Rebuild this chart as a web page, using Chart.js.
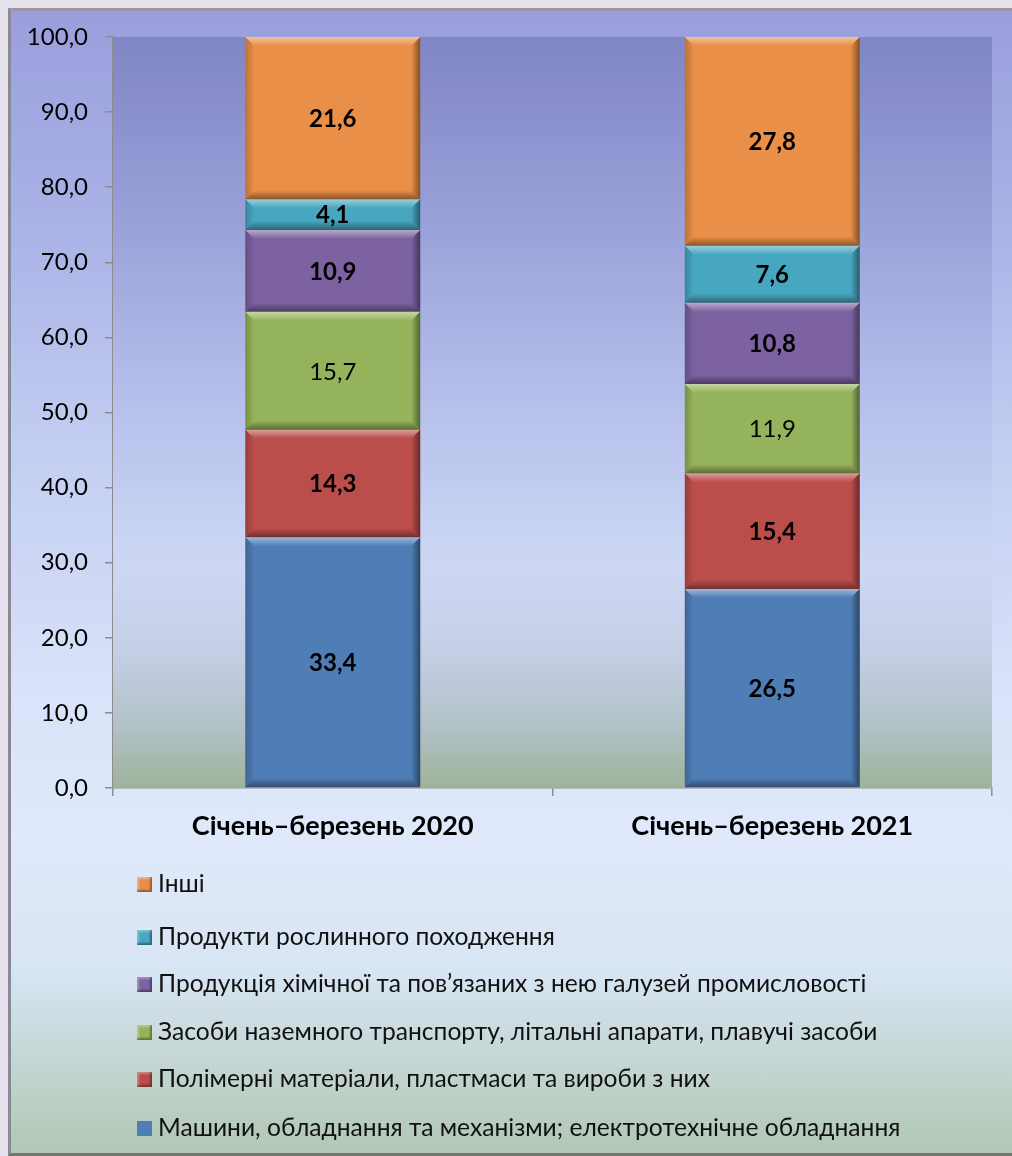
<!DOCTYPE html>
<html>
<head>
<meta charset="utf-8">
<script src="https://cdn.jsdelivr.net/npm/chart.js@4/dist/chart.umd.min.js"></script>
<style>
  html, body { margin: 0; padding: 0; background: #e5e0ec; }
  #wrap {
    position: absolute; left: 8px; top: 8px; width: 1001px; height: 1142px;
    border-left: 3px solid #8a8a96; border-top: 3px solid #9a98a8;
    border-bottom: 3px solid #6d7a6d; border-right: 0;
    background: linear-gradient(to bottom, #9a9fdc 0%, #a9b1e6 18%, #c3cdf1 38%, #d9e3f9 60%, #dfe9fb 72%, #d8e5f4 84%, #c2d4cf 93%, #b2c7b4 100%);
    overflow: hidden;
    font-family: Lato, "Open Sans", sans-serif;
  }
  #c { position: absolute; left: -11px; top: -11px; }
  #legend { position: absolute; left: 0; top: 0; }
  .li { position: absolute; left: 126px; height: 28px; line-height: 28px; font-size: 24.6px; color: #111; white-space: nowrap; }
  .mk { display: inline-block; width: 15px; height: 15px; margin-right: 6px; vertical-align: 0px; box-shadow: inset -2px -2px 2px rgba(0,0,0,0.35), inset 2px 2px 2px rgba(255,255,255,0.3); }
</style>
</head>
<body>
<div id="wrap">
  <canvas id="c" width="1012" height="1156"></canvas>
  <div id="legend"></div>
</div>
<script>
const categories = ['Січень–березень 2020', 'Січень–березень 2021'];
const seriesNames = [
  'Машини, обладнання та механізми; електротехнічне обладнання',
  'Полімерні матеріали, пластмаси та вироби з них',
  'Засоби наземного транспорту, літальні апарати, плавучі засоби',
  'Продукція хімічної та пов’язаних з нею галузей промисловості',
  'Продукти рослинного походження',
  'Інші'
];
const machines  = [33.4, 26.5];
const polymers  = [14.3, 15.4];
const transport = [15.7, 11.9];
const chemicals = [10.9, 10.8];
const plants    = [4.1, 7.6];
const others    = [21.6, 27.8];
const yMin = 0, yMax = 100, yStep = 10;

const seriesValues = [machines, polymers, transport, chemicals, plants, others];
const seriesColors = ['#4f7db6', '#bb4d4a', '#95b35a', '#7c62a0', '#47a6c0', '#e98f47'];
const boldLabels = [true, true, false, true, true, true];

const fmt = v => v.toFixed(1).replace('.', ',');

const plotBg = {
  id: 'plotBg',
  beforeDatasetsDraw(chart) {
    const {ctx, chartArea: a} = chart;
    const g = ctx.createLinearGradient(0, a.top, 0, a.bottom);
    g.addColorStop(0, '#8085c4');
    g.addColorStop(0.25, '#9aa1d9');
    g.addColorStop(0.5, '#b7c1ec');
    g.addColorStop(0.7, '#cdd7f4');
    g.addColorStop(0.82, '#c4cfe6');
    g.addColorStop(0.92, '#b2c1c6');
    g.addColorStop(1, '#9db399');
    ctx.save();
    ctx.fillStyle = g;
    ctx.fillRect(a.left, a.top, a.right - a.left, a.bottom - a.top);
    ctx.restore();
  }
};

const bevel = {
  id: 'bevel',
  afterDatasetsDraw(chart) {
    const ctx = chart.ctx;
    chart.data.datasets.forEach((ds, di) => {
      const meta = chart.getDatasetMeta(di);
      meta.data.forEach((el, i) => {
        const p = el.getProps(['x', 'y', 'base', 'width'], true);
        const l = p.x - p.width / 2, r = p.x + p.width / 2;
        const t = Math.min(p.y, p.base), b = Math.max(p.y, p.base);
        const h = b - t, e = Math.min(9, h / 3);
        ctx.save();
        let g = ctx.createLinearGradient(0, t, 0, t + e);
        g.addColorStop(0, 'rgba(255,255,255,0.45)');
        g.addColorStop(1, 'rgba(255,255,255,0)');
        ctx.fillStyle = g;
        ctx.beginPath(); ctx.moveTo(l, t); ctx.lineTo(r, t); ctx.lineTo(r - e, t + e); ctx.lineTo(l + e, t + e); ctx.closePath(); ctx.fill();
        g = ctx.createLinearGradient(0, b - e, 0, b);
        g.addColorStop(0, 'rgba(0,0,0,0)');
        g.addColorStop(1, 'rgba(0,0,0,0.4)');
        ctx.fillStyle = g;
        ctx.beginPath(); ctx.moveTo(l, b); ctx.lineTo(r, b); ctx.lineTo(r - e, b - e); ctx.lineTo(l + e, b - e); ctx.closePath(); ctx.fill();
        g = ctx.createLinearGradient(r - e, 0, r, 0);
        g.addColorStop(0, 'rgba(0,0,0,0)');
        g.addColorStop(1, 'rgba(0,0,0,0.45)');
        ctx.fillStyle = g;
        ctx.beginPath(); ctx.moveTo(r, t); ctx.lineTo(r, b); ctx.lineTo(r - e, b - e); ctx.lineTo(r - e, t + e); ctx.closePath(); ctx.fill();
        g = ctx.createLinearGradient(l, 0, l + e, 0);
        g.addColorStop(0, 'rgba(0,0,0,0.2)');
        g.addColorStop(1, 'rgba(0,0,0,0)');
        ctx.fillStyle = g;
        ctx.beginPath(); ctx.moveTo(l, t); ctx.lineTo(l, b); ctx.lineTo(l + e, b - e); ctx.lineTo(l + e, t + e); ctx.closePath(); ctx.fill();
        ctx.restore();
      });
    });
  }
};

const labelsPlugin = {
  id: 'vals',
  afterDatasetsDraw(chart) {
    const ctx = chart.ctx;
    chart.data.datasets.forEach((ds, di) => {
      const meta = chart.getDatasetMeta(di);
      meta.data.forEach((el, i) => {
        const p = el.getProps(['x', 'y', 'base'], true);
        ctx.save();
        ctx.font = (boldLabels[di] ? 'bold ' : '') + '24px Lato, "Open Sans", sans-serif';
        ctx.fillStyle = '#000';
        ctx.textAlign = 'center';
        ctx.textBaseline = 'middle';
        ctx.fillText(fmt(ds.data[i]), p.x, (p.y + p.base) / 2 + 1);
        ctx.restore();
      });
    });
  }
};

const datasets = seriesNames.map((n, k) => ({
  label: n,
  data: seriesValues[k],
  backgroundColor: seriesColors[k],
  borderWidth: 0,
  barPercentage: 0.398,
  categoryPercentage: 1.0
}));

new Chart(document.getElementById('c'), {
  type: 'bar',
  data: { labels: categories, datasets },
  options: {
    responsive: false,
    animation: false,
    events: [],
    layout: { padding: { left: 20, right: 20, top: 37, bottom: 308 } },
    plugins: { legend: { display: false }, tooltip: { enabled: false } },
    scales: {
      x: {
        stacked: true,
        offset: true,
        grid: { display: true, drawOnChartArea: false, offset: true, tickLength: 8, color: '#8c8c8c', lineWidth: 1.5 },
        border: { display: true, color: '#8c8c8c', width: 1.5 },
        ticks: { color: '#000', padding: 14, font: { family: 'Lato, "Open Sans", sans-serif', size: 27, weight: 'bold' } },
        afterFit(s) { s.height = 60; }
      },
      y: {
        stacked: true,
        min: yMin, max: yMax,
        grid: { display: true, drawOnChartArea: false, tickLength: 8, color: '#8c8c8c', lineWidth: 1.5 },
        border: { display: true, color: '#8c8c8c', width: 1.5 },
        ticks: { stepSize: yStep, color: '#000', padding: 17, callback: v => fmt(v), font: { family: 'Lato, "Open Sans", sans-serif', size: 24 } },
        afterFit(s) { s.width = 93; }
      }
    }
  },
  plugins: [plotBg, bevel, labelsPlugin]
});

// legend (reverse order, like the reference)
const legendTops = [871, 924, 971, 1019, 1066, 1115];
const lg = document.getElementById('legend');
for (let k = seriesNames.length - 1, row = 0; k >= 0; k--, row++) {
  const d = document.createElement('div');
  d.className = 'li';
  d.style.top = (legendTops[row] - 13) + 'px';
  const m = document.createElement('span');
  m.className = 'mk';
  m.style.background = seriesColors[k];
  if (k === 0) m.style.boxShadow = 'none';
  d.appendChild(m);
  d.appendChild(document.createTextNode(seriesNames[k]));
  lg.appendChild(d);
}
</script>
</body>
</html>
